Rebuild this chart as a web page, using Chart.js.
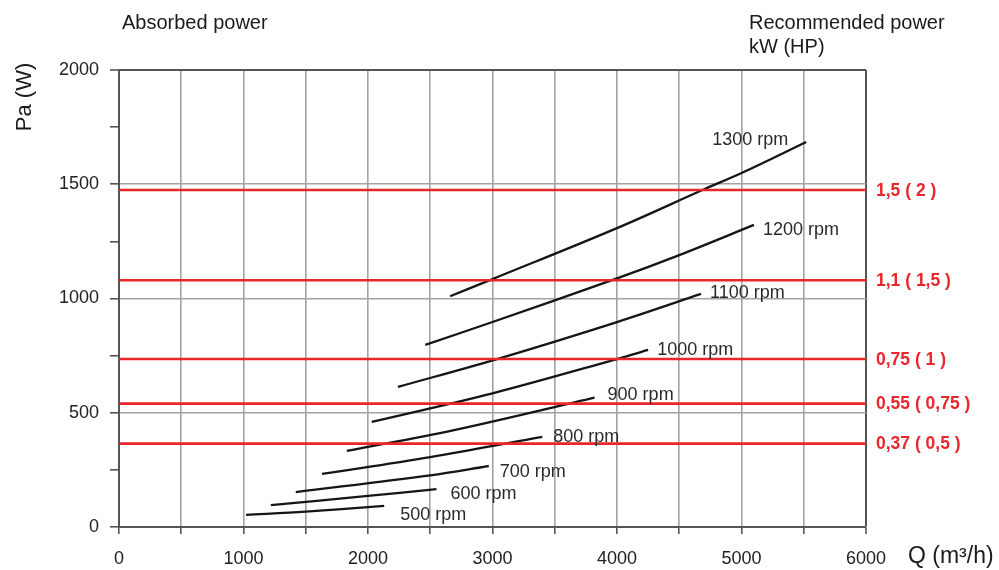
<!DOCTYPE html>
<html>
<head>
<meta charset="utf-8">
<script src="https://cdn.jsdelivr.net/npm/chart.js@4/dist/chart.umd.min.js"></script>
<style>
  html, body { margin: 0; padding: 0; background: #fff; }
  #wrap { width: 999px; height: 570px; }
</style>
</head>
<body>
<div id="wrap"><canvas id="c" width="999" height="570"></canvas></div>
<script>
// ---- data ----
const rpmLabels = ['500 rpm','600 rpm','700 rpm','800 rpm','900 rpm','1000 rpm','1100 rpm','1200 rpm','1300 rpm'];
const q500  = [1020, 1500, 2130];           const pa500  = [53, 67, 92];
const q600  = [1220, 2000, 2550];           const pa600  = [96, 136, 166];
const q700  = [1420, 2500, 2970];           const pa700  = [153, 226, 267];
const q800  = [1630, 2500, 3400];           const pa800  = [232, 306, 394];
const q900  = [1830, 2700, 3820];           const pa900  = [333, 425, 566];
const q1000 = [2030, 3000, 4000, 4250];     const pa1000 = [460, 585, 735, 775];
const q1100 = [2240, 3036, 4000, 4675];     const pa1100 = [613, 735, 897, 1020];
const q1200 = [2460, 3000, 4000, 4500, 5100]; const pa1200 = [797, 897, 1088, 1190, 1322];
const q1300 = [2660, 3000, 4000, 4700, 5000, 5520]; const pa1300 = [1010, 1085, 1308, 1478, 1549, 1685];
const curveQ  = [q500, q600, q700, q800, q900, q1000, q1100, q1200, q1300];
const curvePa = [pa500, pa600, pa700, pa800, pa900, pa1000, pa1100, pa1200, pa1300];

const powerLevels = [365, 540, 735, 1080, 1475];
const powerLabels = ['0,37 ( 0,5 )', '0,55 ( 0,75 )', '0,75 ( 1 )', '1,1 ( 1,5 )', '1,5 ( 2 )'];

const xTickLabels = [0, 1000, 2000, 3000, 4000, 5000, 6000];
const yTickLabels = [0, 500, 1000, 1500, 2000];

// ---- styles ----
const FONT = "'Liberation Sans', Arial, Helvetica, sans-serif";
const RED = '#e8262b';
const GRID = '#a3a3a3';
const AXIS = '#555555';
// label offsets (dx, dy, align) for rpm captions, relative to each curve's end
const rpmLabelStyle = [
  [16, 9, 'left'], [14, 5, 'left'], [11, 6, 'left'], [11, 0, 'left'], [13, -3, 'left'],
  [9, 0, 'left'], [9, -1, 'left'], [9, 5, 'left'], [-18, -2, 'right']
];

const datasets = [];
powerLevels.forEach((v) => {
  datasets.push({
    data: [{x: 0, y: v}, {x: 6000, y: v}],
    borderColor: RED, borderWidth: 2.6, pointRadius: 0, tension: 0
  });
});
curveQ.forEach((qs, i) => {
  datasets.push({
    data: qs.map((q, j) => ({x: q, y: curvePa[i][j]})),
    borderColor: '#151515', borderWidth: 2.3, pointRadius: 0, tension: 0.35
  });
});

const textPlugin = {
  id: 'texts',
  afterDraw(chart) {
    const ctx = chart.ctx;
    const xs = chart.scales.x, ys = chart.scales.y;
    ctx.save();
    // headings
    ctx.fillStyle = '#1a1a1a';
    ctx.textBaseline = 'alphabetic';
    ctx.textAlign = 'left';
    ctx.font = '20px ' + FONT;
    ctx.fillText('Absorbed power', 122, 28.5);
    ctx.fillText('Recommended power', 749, 28.5);
    ctx.fillText('kW (HP)', 749, 53);
    // axis titles
    ctx.font = '23px ' + FONT;
    ctx.fillText('Q (m\u00B3/h)', 908, 563);
    ctx.save();
    ctx.translate(31, 97);
    ctx.rotate(-Math.PI / 2);
    ctx.textAlign = 'center';
    ctx.font = '22px ' + FONT;
    ctx.fillText('Pa (W)', 0, 0);
    ctx.restore();
    // power labels
    ctx.font = 'bold 17.5px ' + FONT;
    ctx.fillStyle = RED;
    ctx.textBaseline = 'middle';
    powerLevels.forEach((v, i) => {
      ctx.fillText(powerLabels[i], xs.right + 10, ys.getPixelForValue(v) + 1);
    });
    // rpm labels
    ctx.font = '18px ' + FONT;
    ctx.fillStyle = '#2a2a2a';
    curveQ.forEach((qs, i) => {
      const n = qs.length - 1;
      const px = xs.getPixelForValue(qs[n]);
      const py = ys.getPixelForValue(curvePa[i][n]);
      const st = rpmLabelStyle[i];
      ctx.textAlign = st[2];
      ctx.fillText(rpmLabels[i], px + st[0], py + st[1]);
    });
    ctx.restore();
  }
};

new Chart(document.getElementById('c'), {
  type: 'line',
  data: { datasets },
  options: {
    responsive: false,
    animation: false,
    events: [],
    layout: { padding: { top: 70, right: 133, left: 0, bottom: 0 } },
    plugins: { legend: { display: false }, tooltip: { enabled: false } },
    scales: {
      x: {
        type: 'linear', min: 0, max: 6000,
        afterFit(s) { s.height = 43; },
        ticks: {
          stepSize: 500, autoSkip: false, maxRotation: 0, padding: 14,
          color: '#222', font: { family: FONT, size: 18 },
          callback: (v) => xTickLabels.includes(v) ? String(v) : ''
        },
        grid: {
          color: (c) => (c.tick && c.tick.value === 6000) ? AXIS : GRID,
          lineWidth: (c) => (c.tick && c.tick.value === 6000) ? 2 : 1.6,
          tickColor: AXIS, tickLength: 7, tickWidth: 1.6
        },
        border: { color: AXIS, width: 2 }
      },
      y: {
        type: 'linear', min: 0, max: 2000,
        afterFit(s) { s.width = 119; },
        ticks: {
          stepSize: 250, autoSkip: false, padding: 11,
          color: '#222', font: { family: FONT, size: 18 },
          callback: (v) => yTickLabels.includes(v) ? String(v) : ''
        },
        grid: {
          color: (c) => {
            const v = c.tick ? c.tick.value : 0;
            if (v === 2000) return AXIS;
            return yTickLabels.includes(v) ? GRID : 'rgba(0,0,0,0)';
          },
          lineWidth: (c) => (c.tick && c.tick.value === 2000) ? 2 : 1.6,
          tickColor: AXIS, tickLength: 9, tickWidth: 1.6
        },
        border: { color: AXIS, width: 2 }
      }
    }
  },
  plugins: [textPlugin]
});
</script>
</body>
</html>
